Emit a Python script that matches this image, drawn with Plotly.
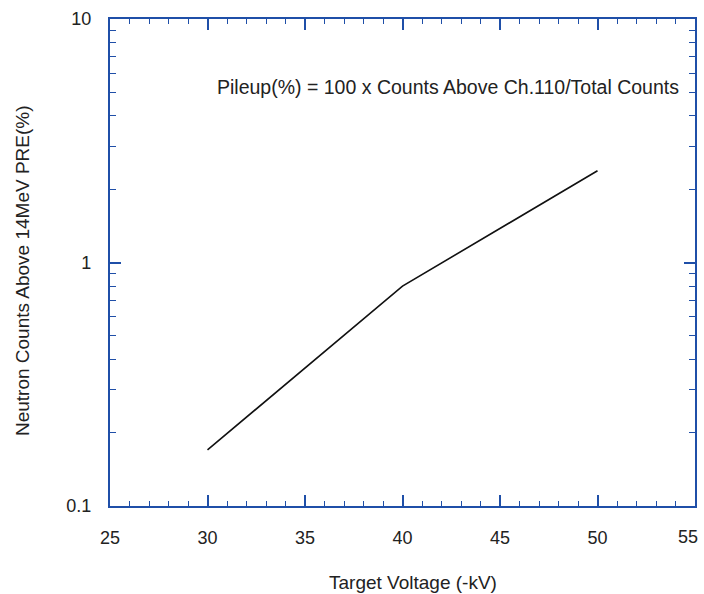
import plotly.graph_objects as go

voltage_kv = [30, 40, 50]
pileup_pct = [0.17, 0.80, 2.38]

x_ticks = [25, 30, 35, 40, 45, 50, 55]
x_tick_text = ["25", "30", "35", "40", "45", "50", ""]
edge_label = "55"
y_ticks = [0.1, 1, 10]
y_tick_text = ["0.1", "1", "10"]

blue = "#1f4fa8"
font = "Liberation Sans, Arial, sans-serif"
txt = "#222222"

fig = go.Figure()
fig.add_trace(go.Scatter(x=voltage_kv, y=pileup_pct, mode="lines",
                         line=dict(color="#111111", width=1.6),
                         showlegend=False, hoverinfo="skip"))

fig.add_annotation(x=0.976, y=0.86, xref="paper", yref="paper",
                   text="Pileup(%) = 100 x Counts Above Ch.110/Total Counts",
                   showarrow=False, xanchor="right", yanchor="middle",
                   font=dict(family=font, size=19.5, color=txt))

# last x tick label drawn so that it stays inside the page edge
fig.add_annotation(x=x_ticks[-1], y=-0.0637, xref="x", yref="paper",
                   text=edge_label, showarrow=False, xanchor="right",
                   yanchor="middle", xshift=5,
                   font=dict(family=font, size=18, color=txt))

# axis titles placed as annotations for precise positioning
fig.add_annotation(x=0.518, y=-0.158, xref="paper", yref="paper",
                   text="Target Voltage (-kV)", showarrow=False,
                   xanchor="center", yanchor="middle",
                   font=dict(family=font, size=19, color=txt))
fig.add_annotation(x=-0.1504, y=0.4825, xref="paper", yref="paper",
                   text="Neutron Counts Above 14MeV PRE(%)", showarrow=False,
                   textangle=-90, xanchor="center", yanchor="middle",
                   font=dict(family=font, size=19, color=txt))

fig.update_layout(
    width=704, height=594,
    margin=dict(l=110, r=9, t=19, b=88),
    paper_bgcolor="white", plot_bgcolor="white",
    font=dict(family=font, color=txt),
    xaxis=dict(range=[25, 55], tickvals=x_ticks, ticktext=x_tick_text, automargin=False,
               ticks="inside", ticklen=11, tickwidth=1.6, tickcolor=blue,
               minor=dict(dtick=1, ticks="inside", ticklen=5, tickwidth=1.4, tickcolor=blue),
               showline=True, linecolor=blue, linewidth=2.2, mirror="allticks",
               showgrid=False, zeroline=False,
               tickfont=dict(size=18, family=font, color=txt),
               ticklabelstandoff=14),
    yaxis=dict(type="log", range=[-1, 1], tickvals=y_ticks, ticktext=y_tick_text,
               automargin=False,
               ticks="inside", ticklen=11, tickwidth=1.6, tickcolor=blue,
               minor=dict(dtick="D1", ticks="inside", ticklen=6, tickwidth=1.4,
                          tickcolor=blue, showgrid=False),
               showline=True, linecolor=blue, linewidth=2.2, mirror="allticks",
               showgrid=False, zeroline=False,
               tickfont=dict(size=18, family=font, color=txt),
               ticklabelstandoff=13, ticklabeloverflow="allow"),
)

# remove the default page margin so the figure sits at the window's top-left corner
fig.write_html("out.html",
               config={"displayModeBar": False},
               post_script="document.body.style.margin='0';document.body.style.overflow='hidden';")
